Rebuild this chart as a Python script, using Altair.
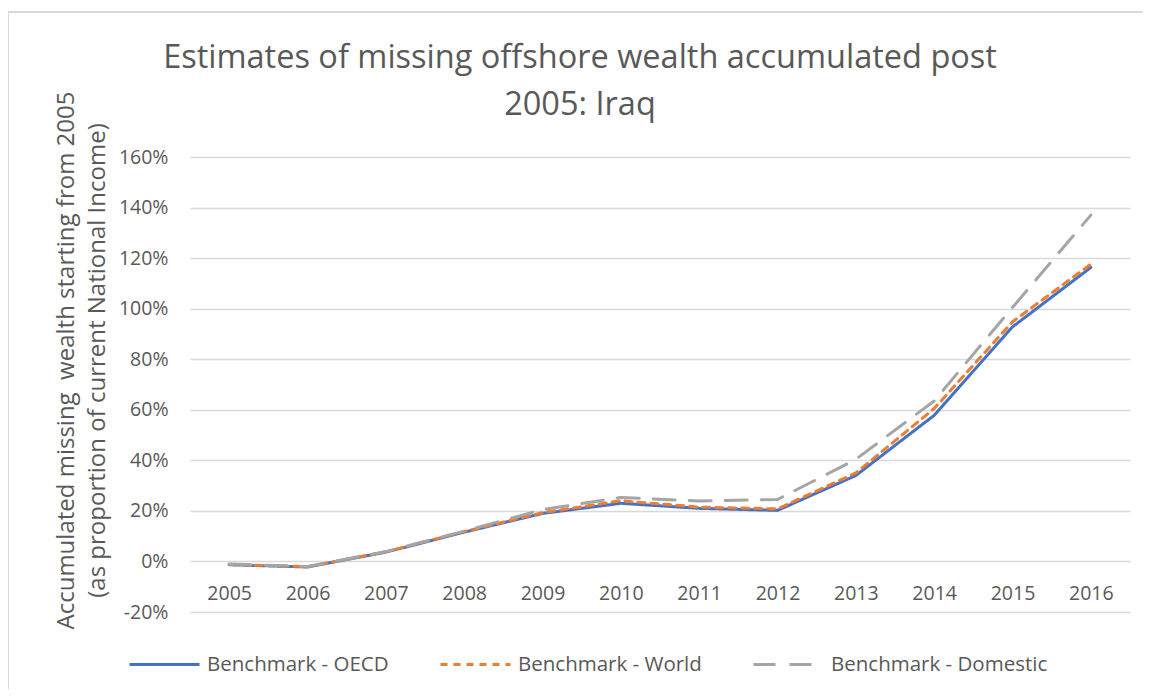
import altair as alt
import pandas as pd

years = ["2005", "2006", "2007", "2008", "2009", "2010", "2011", "2012", "2013", "2014", "2015", "2016"]
oecd = [-0.013, -0.022, 0.037, 0.116, 0.190, 0.230, 0.210, 0.202, 0.340, 0.578, 0.928, 1.163]
world = [-0.012, -0.021, 0.038, 0.118, 0.193, 0.240, 0.215, 0.208, 0.350, 0.605, 0.948, 1.176]
domestic = [-0.010, -0.020, 0.039, 0.120, 0.205, 0.253, 0.239, 0.245, 0.404, 0.635, 1.005, 1.370]
series_names = ["Benchmark - OECD", "Benchmark - World", "Benchmark - Domestic"]
series_colors = ["#4472C4", "#ED7D31", "#A5A5A5"]
y_ticks = [-0.2, 0.0, 0.2, 0.4, 0.6, 0.8, 1.0, 1.2, 1.4, 1.6]

rows = []
for name, vals in zip(series_names, [oecd, world, domestic]):
    for yr, v in zip(years, vals):
        rows.append({"year": yr, "value": v, "series": name})
df = pd.DataFrame(rows)

legend = alt.Legend(
    title=None,
    orient="none",
    direction="horizontal",
    legendX=-62,
    legendY=471,
    symbolType="stroke",
    symbolSize=4900,
    symbolStrokeWidth=3,
    labelFontSize=20.5,
    labelColor="#595959",
    labelOffset=6,
    labelLimit=0,
    columnPadding=45,
    columns=3,
)

lines = alt.Chart(df).mark_line(strokeWidth=3, strokeCap="round", strokeJoin="round").encode(
    x=alt.X(
        "year:O",
        sort=years,
        scale=alt.Scale(type="point", padding=0.5),
        axis=alt.Axis(
            title=None,
            labelAngle=0,
            offset=-51,
            domain=False,
            ticks=False,
            grid=False,
            labelPadding=23,
            labelFontSize=19.5,
            labelColor="#595959",
        ),
    ),
    y=alt.Y(
        "value:Q",
        scale=alt.Scale(domain=[-0.2, 1.6], nice=False, zero=False),
        axis=alt.Axis(
            values=y_ticks,
            labelExpr="replace(format(datum.value, '.0%'), '\u2212', '-')",
            title=["Accumulated missing\u00a0 wealth starting from 2005", "(as proportion of current National Income)"],
            titleFontSize=24,
            titleFontWeight="normal",
            titleColor="#595959",
            titleAngle=-90,
            titleAlign="center",
            titleBaseline="alphabetic",
            titleLineHeight=31,
            titleX=-117,
            titleY=203,
            domain=False,
            ticks=False,
            labelPadding=22,
            labelFontSize=19.5,
            labelColor="#595959",
            gridColor="#d9d9d9",
            gridWidth=1.5,
        ),
    ),
    color=alt.Color(
        "series:N",
        scale=alt.Scale(domain=series_names, range=series_colors),
        legend=legend,
    ),
    strokeDash=alt.StrokeDash(
        "series:N",
        scale=alt.Scale(domain=series_names, range=[[1, 0], [7, 6], [22, 14]]),
        legend=legend,
    ),
    order=alt.Order("series:N", sort="descending"),
)

frame = alt.Data(values=[{"k": 1}])
top_border = alt.Chart(frame).mark_rule(color="#d9d9d9", strokeWidth=2).encode(
    x=alt.value(-182), x2=alt.value(960), y=alt.value(-145)
)
left_border = alt.Chart(frame).mark_rule(color="#d9d9d9", strokeWidth=2).encode(
    x=alt.value(-182), y=alt.value(-145), y2=alt.value(545)
)

chart = alt.layer(top_border, left_border, lines).properties(
    width=940,
    height=455,
    autosize=alt.AutoSizeParams(type="none"),
    padding={"left": 182, "top": 149, "right": 13, "bottom": 77},
    title=alt.TitleParams(
        text=["Estimates of missing offshore wealth accumulated post", "2005: Iraq"],
        fontSize=32.5,
        fontWeight="normal",
        color="#595959",
        anchor="middle",
        frame="group",
        dx=-80,
        offset=-110,
        lineHeight=47,
    ),
).configure(font="Open Sans").configure_view(stroke=None)

chart.save("out.html", embed_options={"renderer": "svg", "actions": False})
